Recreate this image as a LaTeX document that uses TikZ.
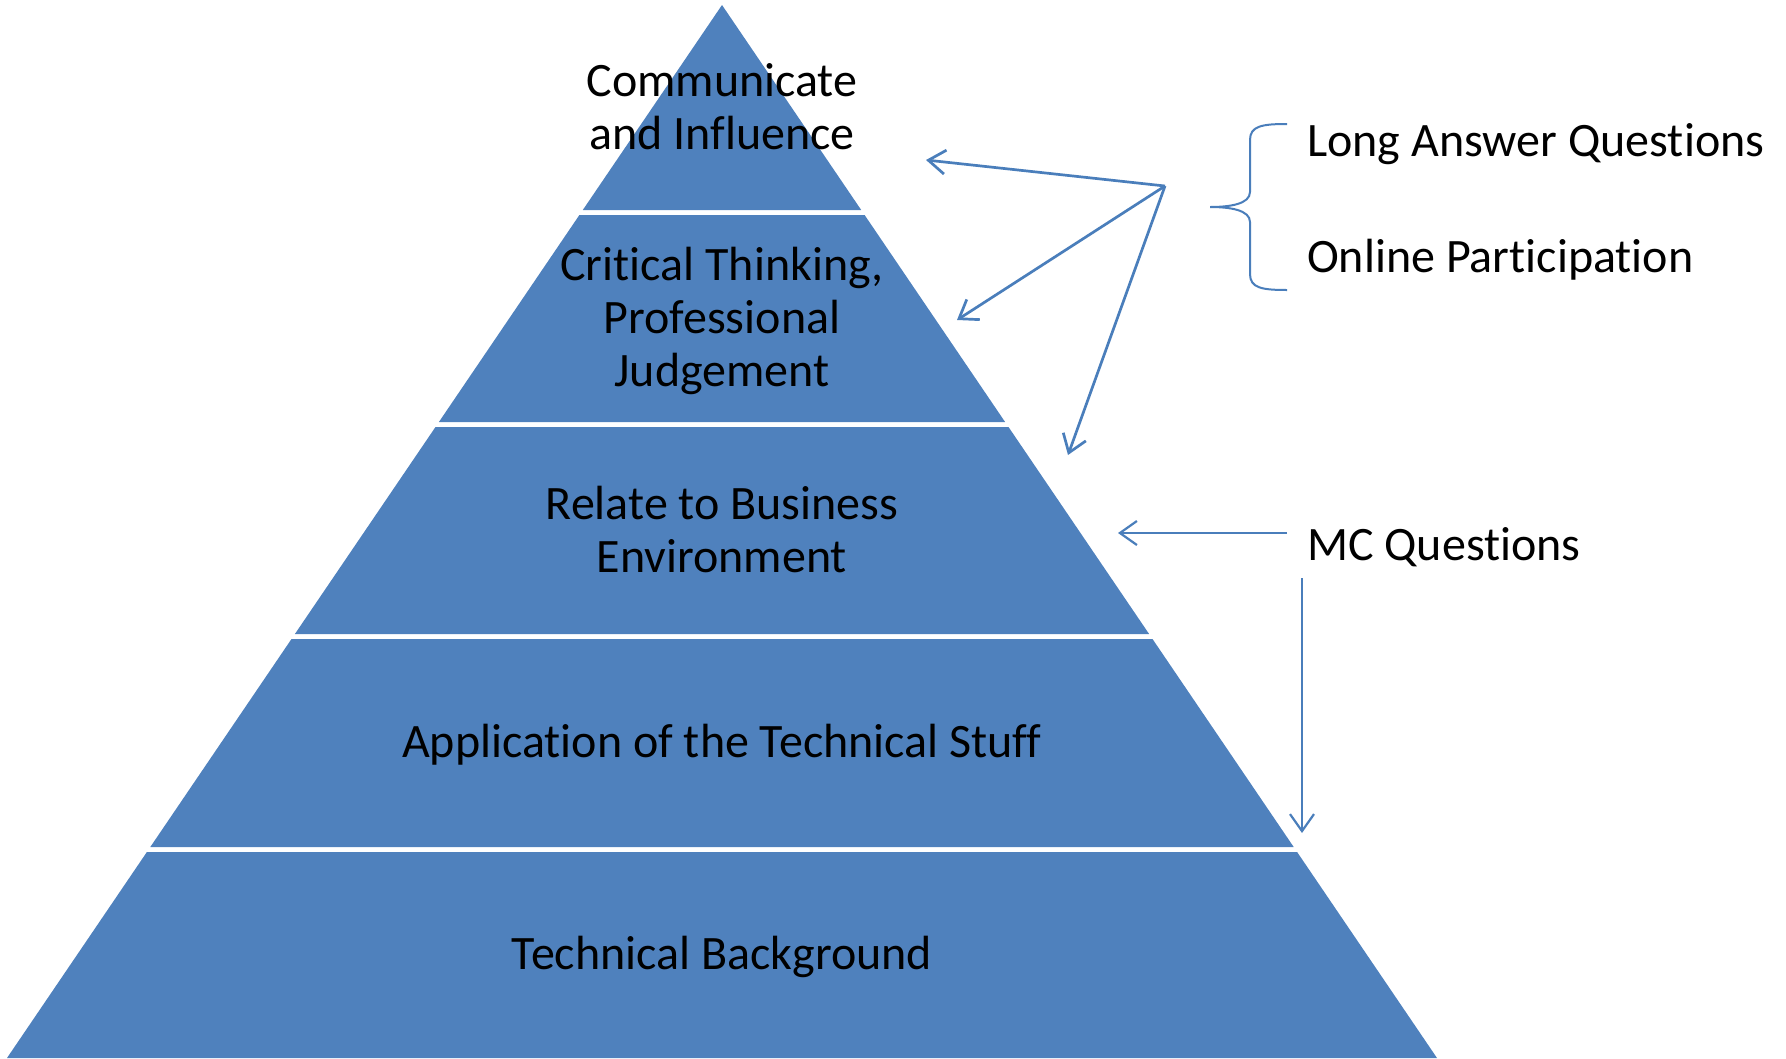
\documentclass[tikz,border=0pt]{standalone}
\usepackage{fontspec}
\setmainfont[Ligatures={NoCommon}]{Carlito}
\usetikzlibrary{arrows.meta}
\definecolor{pyr}{HTML}{4F81BD}
\definecolor{arr}{HTML}{4A7EBB}
\begin{document}
\begin{tikzpicture}[x=1pt,y=-1pt,
  layer/.style={fill=pyr},
  lbl/.style={align=center,font=\fontsize{48}{53}\selectfont,text=black,inner sep=0pt},
  side/.style={anchor=base west,font=\fontsize{48}{53}\selectfont,text=black,inner sep=0pt},
  conn/.style={draw=arr,line width=2.7pt,-{Straight Barb[length=17pt,width=24pt,line width=2.7pt]}},
  conn2/.style={draw=arr,line width=2.2pt,-{Straight Barb[length=17pt,width=24pt,line width=2.2pt]}},
  brace/.style={draw=arr,line width=2pt}]
\useasboundingbox (0,0) rectangle (1786,1058);
% layers
\fill[layer] (722,5) -- (861.2,210) -- (582.8,210) -- cycle;
\fill[layer] (579.4,215) -- (864.6,215) -- (1005.1,422) -- (438.9,422) -- cycle;
\fill[layer] (435.5,427) -- (1008.5,427) -- (1149.1,634) -- (294.9,634) -- cycle;
\fill[layer] (291.5,639) -- (1152.5,639) -- (1293.7,847) -- (150.3,847) -- cycle;
\fill[layer] (146.9,852) -- (1297.1,852) -- (1437,1058) -- (7,1058) -- cycle;
% labels
\node[lbl] (l1) at (722,107) {Communicate\\and Influence};
\node[lbl] (l2) at (722,321) {Critical Thinking,\\Professional\\Judgement};
\node[lbl] (l3) at (722,530) {Relate to Business\\Environment};
\node[lbl] (l4) at (722,745) {Application of the Technical Stuff};
\node[lbl] (l5) at (722,957) {Technical Background};
% side texts
\node[side] (la) at (1307,156) {Long Answer Questions};
\node[side] (op) at (1307,272) {Online Participation};
\node[side] (mc) at (1307,560) {MC Questions};
% brace
\draw[brace] (1287,124) .. controls (1262,124) and (1250,126) .. (1250,140)
  -- (1250,192) .. controls (1250,204) and (1230,207) .. (1210,207)
  .. controls (1230,207) and (1250,210) .. (1250,222)
  -- (1250,274) .. controls (1250,288) and (1262,290) .. (1287,290);
% arrows
\coordinate (src) at (1165,186);
\coordinate (t1) at (926,160);
\coordinate (t2) at (957,320);
\coordinate (t3) at (1068,455);
\draw[conn] (src) -- (t1);
\draw[conn] (src) -- (t2);
\draw[conn] (src) -- (t3);
\coordinate (mcs) at (1287,533);
\coordinate (mct) at (1118,533);
\draw[conn2] (mcs) -- (mct);
\coordinate (mcv) at (1302,578);
\coordinate (mcvt) at (1302,833);
\draw[conn2] (mcv) -- (mcvt);
\end{tikzpicture}
\end{document}
